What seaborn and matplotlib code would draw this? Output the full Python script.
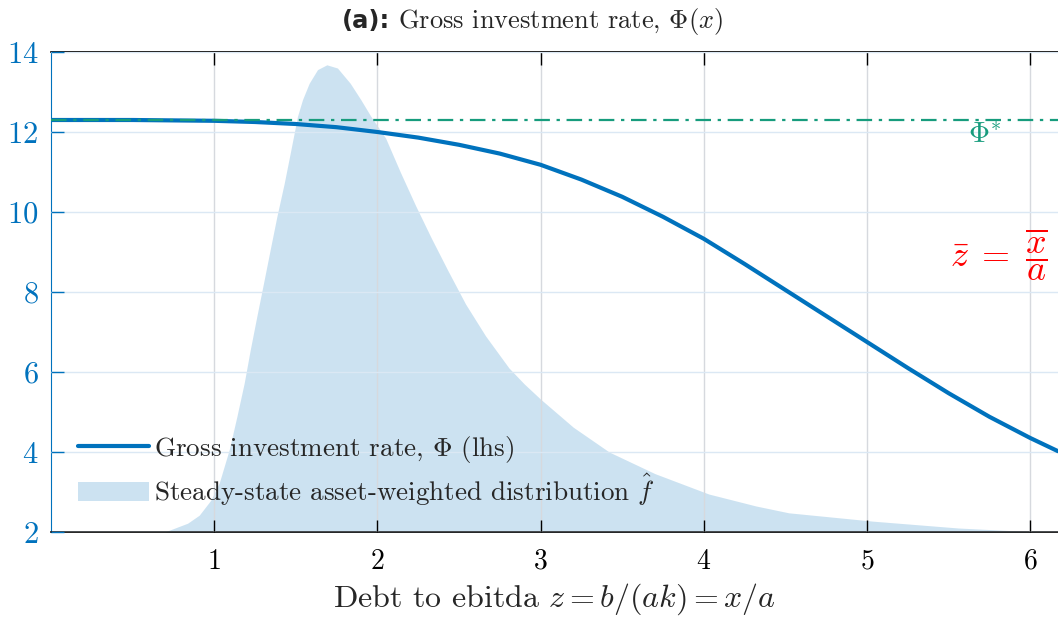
import numpy as np
import pandas as pd
import matplotlib
matplotlib.use("Agg")
import matplotlib.pyplot as plt
import seaborn as sns
from matplotlib.lines import Line2D
from matplotlib.patches import Patch

# Gross investment rate Phi(z)
phi_z = [0.0, 0.5, 1.0, 1.25, 1.5, 1.75, 2.0, 2.25, 2.5, 2.75, 3.0, 3.25, 3.5,
         3.75, 4.0, 4.25, 4.5, 4.75, 5.0, 5.25, 5.5, 5.75, 6.0, 6.17]
phi_val = [12.30, 12.30, 12.28, 12.25, 12.20, 12.12, 12.00, 11.86, 11.68, 11.46,
           11.18, 10.81, 10.38, 9.88, 9.33, 8.70, 8.05, 7.40, 6.75, 6.10, 5.47,
           4.88, 4.35, 4.02]
phi_star = 12.30

# steady-state asset-weighted distribution (in lhs units, baseline 2)
fhat_z = [0.0, 0.70, 0.715, 0.837, 0.908, 0.98, 1.031, 1.092, 1.139, 1.184,
          1.221, 1.261, 1.302, 1.343, 1.384, 1.429, 1.470, 1.510, 1.541, 1.582,
          1.633, 1.690, 1.755, 1.833, 1.898, 1.960, 2.05, 2.14, 2.235, 2.33,
          2.43, 2.54, 2.663, 2.806, 2.9, 3.0, 3.2, 3.42, 3.7, 4.03, 4.32, 4.52,
          5.04, 5.56, 6.05, 6.17]
fhat_val = [2.0, 2.0, 2.03, 2.22, 2.42, 2.80, 3.23, 4.06, 4.89, 5.73,
            6.56, 7.39, 8.22, 9.06, 9.89, 10.72, 11.56, 12.39, 12.81, 13.22,
            13.56, 13.68, 13.60, 13.22, 12.81, 12.39, 11.85, 11.0, 10.15, 9.35,
            8.55, 7.70, 6.90, 6.10, 5.70, 5.32, 4.62, 4.0, 3.46, 2.95, 2.65, 2.48,
            2.27, 2.1, 2.0, 2.0]

x_ticks = [1, 2, 3, 4, 5, 6]
y_ticks = [2, 4, 6, 8, 10, 12, 14]

blue = "#0072BD"
green = "#179C7D"

sns.set_style("ticks")
plt.rcParams["font.family"] = "serif"
plt.rcParams["font.serif"] = ["cmr10"]
plt.rcParams["mathtext.fontset"] = "cm"
plt.rcParams["axes.unicode_minus"] = False
plt.rcParams["axes.formatter.use_mathtext"] = True

fig = plt.figure(figsize=(10.58, 6.18), dpi=100)
ax = fig.add_axes([51 / 1058, 86 / 618, 1007 / 1058, 480 / 618])

df_phi = pd.DataFrame({"z": phi_z, "phi": phi_val})
df_f = pd.DataFrame({"z": fhat_z, "f": fhat_val})

ax.fill_between(df_f["z"], 2, df_f["f"], color=blue, alpha=0.2, lw=0, zorder=1)
sns.lineplot(data=df_phi, x="z", y="phi", ax=ax, color=blue, lw=3, zorder=3)
ax.axhline(phi_star, color=green, lw=1.6, ls=(0, (7, 3, 1.5, 3)), zorder=4)

ax.set_xlim(0, 6.17)
ax.set_ylim(2, 14)
ax.set_xticks(x_ticks)
ax.set_yticks(y_ticks)
ax.set_axisbelow(False)
ax.grid(axis="x", color="#d6d9de", lw=1, zorder=2.5)
ax.grid(axis="y", color="#dbe8f4", lw=1, zorder=2.5)

ax.tick_params(axis="x", direction="in", length=9, width=1, top=True,
               labelsize=20, pad=12, colors="black")
ax.tick_params(axis="y", direction="in", length=9, width=1, labelsize=22,
               colors=blue, pad=9)
ax.spines["left"].set_color(blue)
ax.spines["right"].set_visible(False)
for s in ["top", "bottom"]:
    ax.spines[s].set_color("black")
    ax.spines[s].set_linewidth(1.2)

ax.set_xlabel(r"Debt to ebitda $z=b/(ak)=x/a$", fontsize=23, labelpad=5)
ax.set_ylabel("")

ax.text(5.72, 11.9, r"$\Phi^{*}$", color=green, fontsize=21, ha="center", va="center")
ax.text(6.11, 8.94, r"$\bar{z}\;=\;\dfrac{\overline{x}}{a}$", color="red", fontsize=26,
        ha="right", va="center")

handles = [Line2D([], [], color=blue, lw=3),
           Patch(facecolor=blue, alpha=0.2, lw=0)]
labels = [r"Gross investment rate, $\Phi$ (lhs)",
          r"Steady-state asset-weighted distribution $\hat{f}$"]
ax.legend(handles, labels, loc="lower left", bbox_to_anchor=(0.027, 0.05),
          frameon=False, fontsize=19.5, handlelength=2.6, handletextpad=0.2,
          labelspacing=0.25, borderaxespad=0, borderpad=0)

fig.text(0.3686, 0.966, "(a):", ha="right", va="center", fontsize=17.5,
         fontweight="bold", family=["Liberation Sans Narrow", "DejaVu Sans"])
fig.text(0.376, 0.966, r"Gross investment rate, $\Phi(x)$", ha="left",
         va="center", fontsize=19)

fig.savefig("out.png", dpi=100)
